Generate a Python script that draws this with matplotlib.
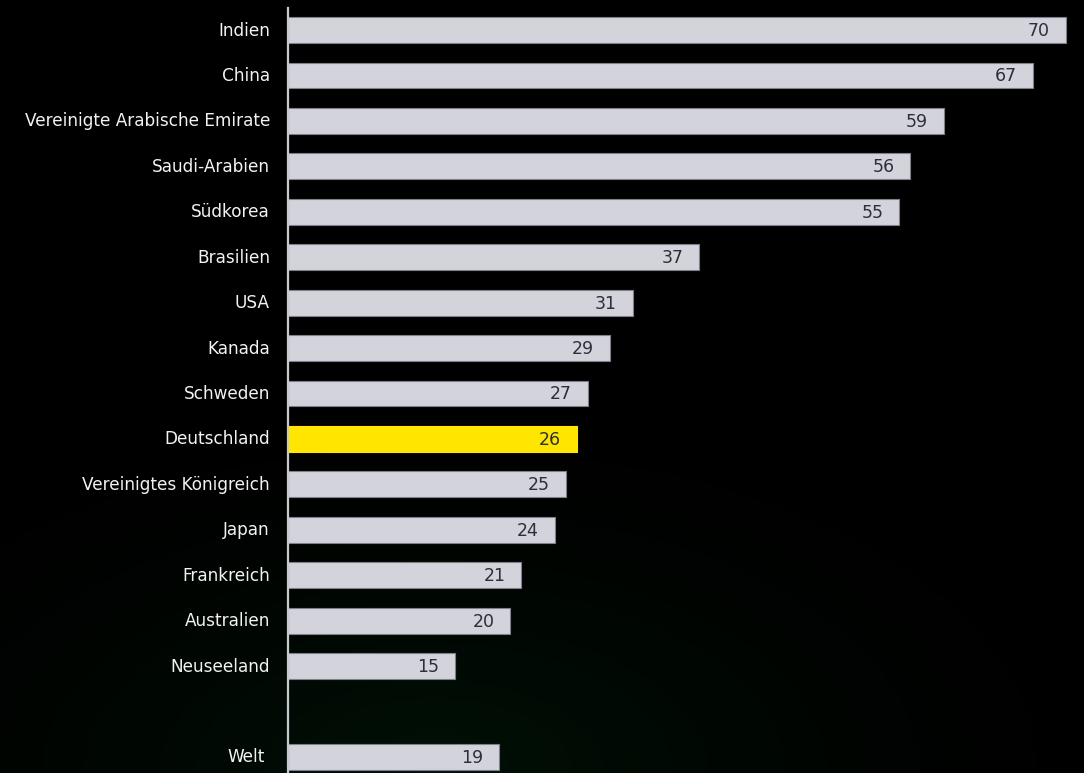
import matplotlib
matplotlib.use("Agg")
import matplotlib.pyplot as plt
import matplotlib.transforms as mtransforms
import numpy as np

countries = ["Indien", "China", "Vereinigte Arabische Emirate", "Saudi-Arabien", "Südkorea",
             "Brasilien", "USA", "Kanada", "Schweden", "Deutschland",
             "Vereinigtes Königreich", "Japan", "Frankreich", "Australien", "Neuseeland"]
values = [70, 67, 59, 56, 55, 37, 31, 29, 27, 26, 25, 24, 21, 20, 15]
world_label = "Welt"
world_value = 19
highlight = "Deutschland"

W, H = 1084, 773
fig = plt.figure(figsize=(W / 100, H / 100), dpi=100, facecolor="black")

# subtle background gradient (dark green glow bottom)
bg = fig.add_axes([0, 0, 1, 1], zorder=-10)
yy, xx = np.mgrid[0:1:200j, 0:1:300j]
g = np.clip((0.55 - np.sqrt(((xx - 0.4) / 1.2) ** 2 + ((yy - 0.0) / 0.9) ** 2)) / 0.55, 0, 1) ** 1.5
img = np.zeros((200, 300, 3))
img[..., 1] = 0.065 * g
img[..., 2] = 0.025 * g
bg.imshow(img, extent=[0, 1, 0, 1], origin="lower", aspect="auto")
bg.axis("off")

left_px, top_px = 288, 8
ax = fig.add_axes([left_px / W, 0, (W - left_px) / W, (H - top_px) / H])
ax.patch.set_alpha(0)

labels = countries + [world_label]
vals = values + [world_value]
pos = list(range(len(countries))) + [len(countries) + 1]
colors = ["#ffe600" if c == highlight else "#d3d3dc" for c in labels]
edges = ["#ffe600" if c == highlight else "#80808c" for c in labels]

ax.barh(pos, vals, height=0.57, color=colors, edgecolor=edges, linewidth=0.8, zorder=2)

px_per_unit = (1066 - 288) / 70.0
ax.set_xlim(0, (W - left_px) / px_per_unit)
ax.set_ylim(16 + (773 - 757) / 45.4, -(30 - 8) / 45.4)

for p, v in zip(pos, vals):
    ax.annotate(f"{v}", xy=(v, p), xytext=(-11.5, 0.8), textcoords="offset points",
                ha="right", va="center_baseline", fontsize=12.5, color="#2e2e38",
                family="DejaVu Sans", zorder=3)

ax.set_yticks(pos)
ax.set_yticklabels(labels, fontsize=12.2, color="#f2f2f2", family="DejaVu Sans")
ax.tick_params(axis="y", length=0, pad=13)
ax.set_xticks([])
for s in ["top", "right", "bottom"]:
    ax.spines[s].set_visible(False)
ax.spines["left"].set_color("#c8c8d0")
ax.spines["left"].set_linewidth(1.6)

ticklabels = ax.get_yticklabels()
for i, tl in enumerate(ticklabels):
    dx = -5 / 100 if i == len(ticklabels) - 1 else 0
    tl.set_transform(tl.get_transform() + mtransforms.ScaledTranslation(dx, 1.5 / 100, fig.dpi_scale_trans))

fig.savefig("out.png", dpi=100, facecolor="black")
